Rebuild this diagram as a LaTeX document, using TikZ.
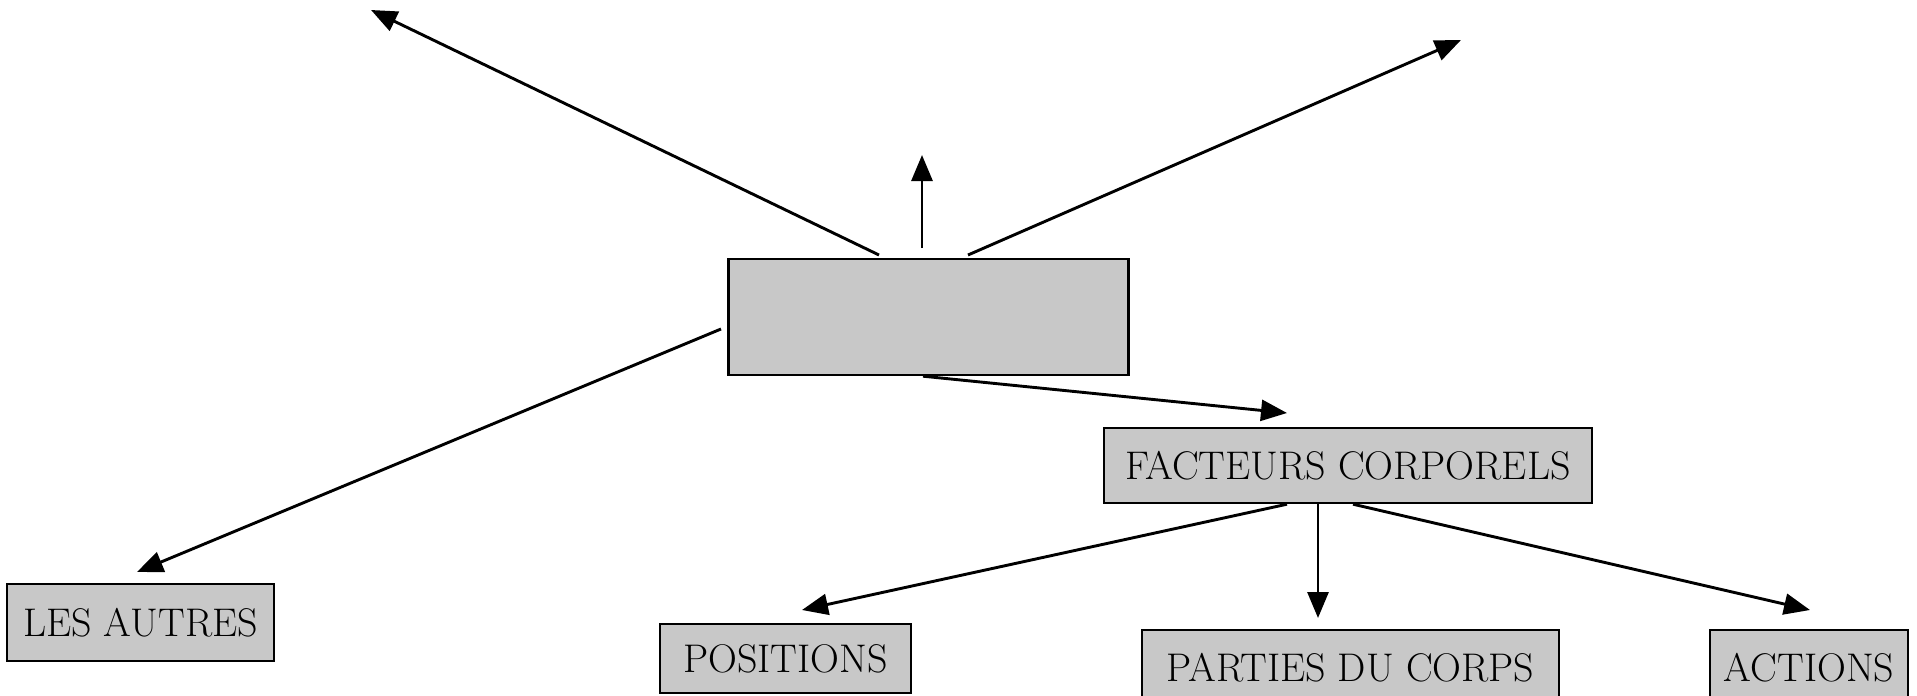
\documentclass[tikz,border=0pt]{standalone}
\usetikzlibrary{arrows.meta}
\definecolor{boxgray}{RGB}{200,200,200}
\begin{document}
\begin{tikzpicture}[x=0.5pt,y=-0.5pt,
  box/.style={draw=black,fill=boxgray,line width=1.2pt,inner sep=0pt,
    font=\fontsize{20}{24}\selectfont},
  conn/.style={line width=1.45pt,-{Triangle[length=13pt,width=10.5pt]}}]
\clip (0,0) rectangle (1917,696);
\node[box,minimum width=200pt,minimum height=58pt] (main) at (928.5,317) {};
\node[box,minimum width=244pt,minimum height=37.5pt] (fc) at (1348,465.5) {FACTEURS CORPORELS};
\node[box,minimum width=133.5pt,minimum height=38.5pt] (autres) at (140.5,622.5) {LES AUTRES};
\node[box,minimum width=125.5pt,minimum height=34.5pt] (pos) at (785.5,658.5) {POSITIONS};
\node[box,minimum width=208.5pt,minimum height=38pt] (parties) at (1350.5,668) {PARTIES DU CORPS};
\node[box,minimum width=99pt,minimum height=38pt] (actions) at (1809,668) {ACTIONS};
% free ends and gaps
\coordinate (tl) at (371,10);
\coordinate (tu) at (922,155);
\coordinate (tr) at (1461,40);
\coordinate (sl) at (879,255);
\coordinate (su) at (922,248);
\coordinate (sr) at (968,255);
\coordinate (sw) at (721,329);
\draw[conn] (sl) -- (tl);
\draw[conn] (su) -- (tu);
\draw[conn] (sr) -- (tr);
\draw[conn] (sw) -- (137,572) coordinate (autresin);
\draw[conn] ([xshift=-2.75pt]main.south) -- (1287,413) coordinate (fcin);
\draw[conn] ([xshift=-30.5pt]fc.south) -- (802,610) coordinate (posin);
\draw[conn] ([xshift=-15pt]fc.south) -- (1318,618) coordinate (partin);
\draw[conn] ([xshift=2.5pt]fc.south) -- (1810,610) coordinate (actin);
\end{tikzpicture}
\end{document}
